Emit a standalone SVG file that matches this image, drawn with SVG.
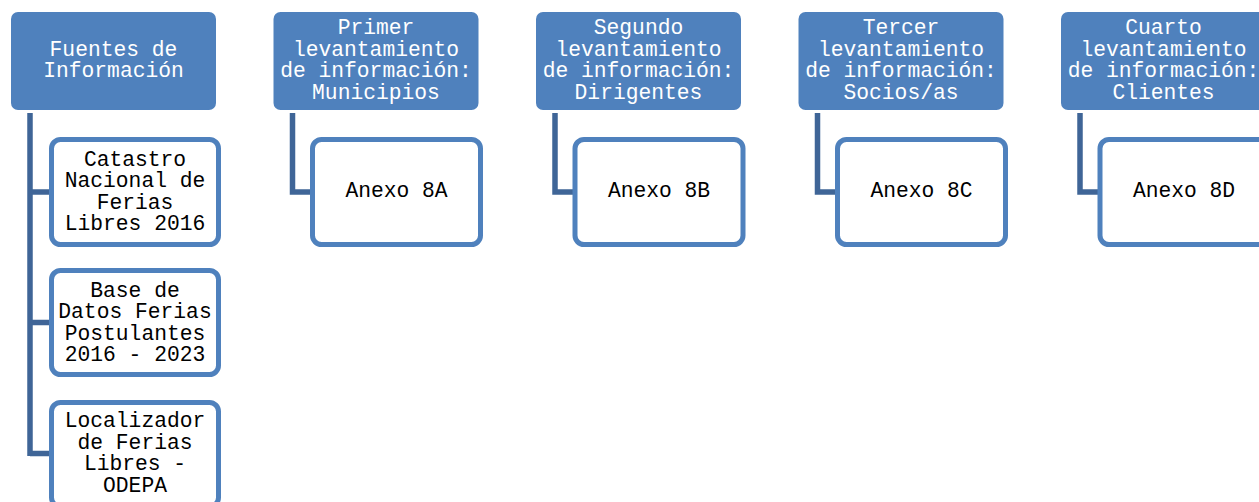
<svg xmlns="http://www.w3.org/2000/svg" width="1259" height="502" viewBox="0 0 1259 502">
<style>
.hdr{fill:#4F81BD;}
.child{fill:#FFFFFF;stroke:#4F81BD;stroke-width:5;}
.conn{fill:none;stroke:#3F6597;stroke-width:5.5;stroke-linejoin:miter;}
.ht{font-family:"Liberation Mono","Courier New",monospace;font-size:21.3px;fill:#FFFFFF;text-anchor:middle;}
.ct{font-family:"Liberation Mono","Courier New",monospace;font-size:21.3px;fill:#000000;text-anchor:middle;}
</style>
<rect width="1259" height="502" fill="#FFFFFF"/>
<g id="connectors">
<path class="conn" d="M30,113 V456 M30,192 H50 M30,322.5 H50 M30,453.5 H50"/>
<path class="conn" d="M292.5,113 V192 H312"/>
<path class="conn" d="M555,113 V192 H574.5"/>
<path class="conn" d="M817.5,113 V192 H837"/>
<path class="conn" d="M1080,113 V192 H1099.5"/>
</g>
<g id="h0">
<rect class="hdr" x="11" y="12" width="205" height="98" rx="7"/>
<text class="ht" x="113.5" y="55.5">Fuentes de</text>
<text class="ht" x="113.5" y="77">Información</text>
</g>
<g id="c0a">
<rect class="child" x="51.5" y="139.5" width="167" height="105" rx="9"/>
<text class="ct" x="135" y="165.5">Catastro</text>
<text class="ct" x="135" y="187">Nacional de</text>
<text class="ct" x="135" y="208.5">Ferias</text>
<text class="ct" x="135" y="230">Libres 2016</text>
</g>
<g id="c0b">
<rect class="child" x="51.5" y="270.5" width="167" height="104" rx="9"/>
<text class="ct" x="135" y="296.5">Base de</text>
<text class="ct" x="135" y="318">Datos Ferias</text>
<text class="ct" x="135" y="339.5">Postulantes</text>
<text class="ct" x="135" y="361">2016 - 2023</text>
</g>
<g id="c0c">
<rect class="child" x="51.5" y="402.5" width="167" height="104" rx="9"/>
<text class="ct" x="135" y="427">Localizador</text>
<text class="ct" x="135" y="448.5">de Ferias</text>
<text class="ct" x="135" y="470">Libres -</text>
<text class="ct" x="135" y="491.5">ODEPA</text>
</g>
<g id="h1">
<rect class="hdr" x="273.5" y="12" width="205" height="98" rx="7"/>
<text class="ht" x="376" y="34">Primer</text>
<text class="ht" x="376" y="55.5">levantamiento</text>
<text class="ht" x="376" y="77">de información:</text>
<text class="ht" x="376" y="98.5">Municipios</text>
</g>
<g id="c1">
<rect class="child" x="312.5" y="139.5" width="168" height="105" rx="9"/>
<text class="ct" x="396.5" y="197">Anexo 8A</text>
</g>
<g id="h2">
<rect class="hdr" x="536" y="12" width="205" height="98" rx="7"/>
<text class="ht" x="638.5" y="34">Segundo</text>
<text class="ht" x="638.5" y="55.5">levantamiento</text>
<text class="ht" x="638.5" y="77">de información:</text>
<text class="ht" x="638.5" y="98.5">Dirigentes</text>
</g>
<g id="c2">
<rect class="child" x="575" y="139.5" width="168" height="105" rx="9"/>
<text class="ct" x="659" y="197">Anexo 8B</text>
</g>
<g id="h3">
<rect class="hdr" x="798.5" y="12" width="205" height="98" rx="7"/>
<text class="ht" x="901" y="34">Tercer</text>
<text class="ht" x="901" y="55.5">levantamiento</text>
<text class="ht" x="901" y="77">de información:</text>
<text class="ht" x="901" y="98.5">Socios/as</text>
</g>
<g id="c3">
<rect class="child" x="837.5" y="139.5" width="168" height="105" rx="9"/>
<text class="ct" x="921.5" y="197">Anexo 8C</text>
</g>
<g id="h4">
<rect class="hdr" x="1061" y="12" width="205" height="98" rx="7"/>
<text class="ht" x="1163.5" y="34">Cuarto</text>
<text class="ht" x="1163.5" y="55.5">levantamiento</text>
<text class="ht" x="1163.5" y="77">de información:</text>
<text class="ht" x="1163.5" y="98.5">Clientes</text>
</g>
<g id="c4">
<rect class="child" x="1100" y="139.5" width="168" height="105" rx="9"/>
<text class="ct" x="1184" y="197">Anexo 8D</text>
</g>
</svg>
